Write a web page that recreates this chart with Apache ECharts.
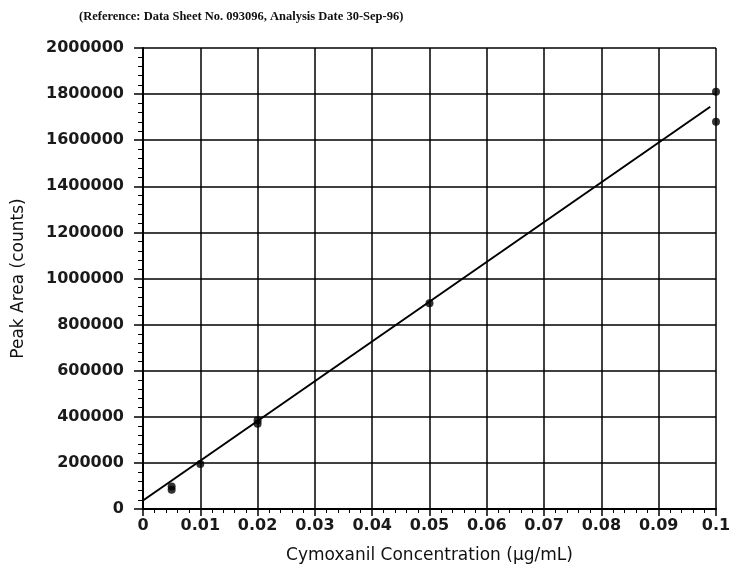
<!DOCTYPE html>
<html>
<head>
<meta charset="utf-8">
<script src="https://cdn.jsdelivr.net/npm/echarts@6/dist/echarts.min.js"></script>
<style>
html,body{margin:0;padding:0;background:#fff;}
#chart{width:737px;height:580px;}
</style>
</head>
<body>
<div id="chart"></div>
<script>
// Calibration standards: concentration (µg/mL) and peak area (counts)
var concentrations = [0.005, 0.005, 0.01, 0.02, 0.02, 0.05, 0.1, 0.1];
var peakAreas = [98000, 83000, 195000, 370000, 385000, 893000, 1810000, 1680000];
// Regression line end points
var fitX = [0, 0.099];
var fitY = [37000, 1745000];

var titleText = '(Reference: Data Sheet No. 093096, Analysis Date 30-Sep-96)';
var xName = 'Cymoxanil Concentration (\u00b5g/mL)';
var yName = 'Peak Area (counts)';

var pts = concentrations.map(function (c, i) { return [c, peakAreas[i]]; });
var fit = fitX.map(function (x, i) { return [x, fitY[i]]; });

var labelFont = { fontFamily: 'DejaVu Sans', fontSize: 16, fontWeight: 'bold', color: '#1a1a1a' };

var chart = echarts.init(document.getElementById('chart'));
chart.setOption({
  backgroundColor: '#fff',
  animation: false,
  title: {
    text: titleText,
    left: 74, top: 5,
    textStyle: { fontFamily: 'Liberation Serif', fontSize: 12.5, fontWeight: 'bold', color: '#111' }
  },
  grid: { left: 143, right: 21, top: 48, bottom: 71 },
  xAxis: {
    type: 'value', min: 0, max: 0.1, interval: 0.01,
    name: xName, nameLocation: 'middle', nameGap: 38,
    nameTextStyle: { fontFamily: 'DejaVu Sans', fontSize: 17, color: '#111' },
    axisLine: { show: true, lineStyle: { color: '#000', width: 2 } },
    axisTick: { show: true, length: 7, lineStyle: { color: '#000', width: 1.5 } },
    minorTick: { show: true, splitNumber: 5, length: 4, lineStyle: { color: '#000', width: 1 } },
    splitLine: { show: true, lineStyle: { color: '#000', width: 1.5 } },
    axisLabel: Object.assign({ margin: 9 }, labelFont)
  },
  yAxis: {
    type: 'value', min: 0, max: 2000000, interval: 200000,
    name: yName, nameLocation: 'middle', nameGap: 116, nameRotate: 90,
    nameTextStyle: { fontFamily: 'DejaVu Sans', fontSize: 17, color: '#111' },
    axisLine: { show: true, lineStyle: { color: '#000', width: 2 } },
    axisTick: { show: true, length: 9, lineStyle: { color: '#000', width: 1.5 } },
    minorTick: { show: true, splitNumber: 5, length: 5, lineStyle: { color: '#000', width: 1 } },
    splitLine: { show: true, lineStyle: { color: '#000', width: 1.5 } },
    axisLabel: Object.assign({ margin: 19, formatter: function (v) { return String(v); } }, labelFont)
  },
  series: [
    {
      type: 'line', data: fit, symbol: 'none',
      lineStyle: { color: '#000', width: 2 }, z: 3
    },
    {
      type: 'scatter', data: pts, symbol: 'circle', symbolSize: 8,
      itemStyle: { color: '#000' }, z: 4
    }
  ]
});
</script>
</body>
</html>
